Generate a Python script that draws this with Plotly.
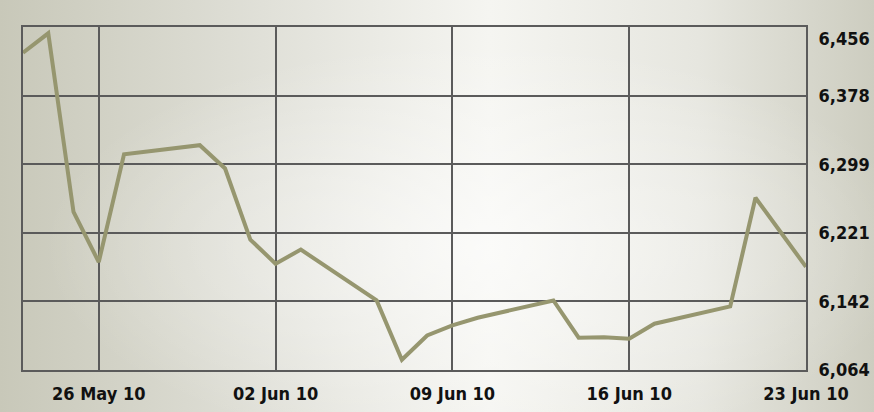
import base64
import plotly.graph_objects as go

# ---- data ----
dates = [
    "2010-05-23", "2010-05-24", "2010-05-25", "2010-05-26", "2010-05-27",
    "2010-05-30", "2010-05-31", "2010-06-01", "2010-06-02", "2010-06-03",
    "2010-06-06", "2010-06-07", "2010-06-08", "2010-06-09", "2010-06-10",
    "2010-06-13", "2010-06-14", "2010-06-15", "2010-06-16", "2010-06-17",
    "2010-06-20", "2010-06-21", "2010-06-22", "2010-06-23",
]
values = [
    6426.6, 6448.8, 6244.6, 6187.4, 6310.6,
    6320.9, 6294.3, 6213.0, 6185.5, 6201.6,
    6143.5, 6075.7, 6103.5, 6114.9, 6123.7,
    6143.5, 6100.9, 6101.5, 6099.7, 6116.9,
    6136.7, 6260.9, 6221.4, 6181.9,
]
y_tickvals = [6064, 6142.4, 6220.8, 6299.2, 6377.6, 6456]
y_ticktext = ["6,064", "6,142", "6,221", "6,299", "6,378", "<br>6,456"]
x_tickvals = ["2010-05-26", "2010-06-02", "2010-06-09", "2010-06-16", "2010-06-23"]
x_range = ["2010-05-23", "2010-06-23"]

# ---- layout geometry ----
W, H = 874, 412
ML, MR, MT, MB = 23, 68, 27, 42
pw, ph = W - ML - MR, H - MT - MB

# background gradient as an SVG image
svg = f'''<svg xmlns="http://www.w3.org/2000/svg" width="{W}" height="{H}" preserveAspectRatio="none">
<defs>
<linearGradient id="h" x1="0" y1="0" x2="1" y2="0">
<stop offset="0" stop-color="#c8c8b9"/>
<stop offset="0.3" stop-color="#e0e0d8"/>
<stop offset="0.56" stop-color="#f5f5f1"/>
<stop offset="0.8" stop-color="#e6e6df"/>
<stop offset="1" stop-color="#cdcdc0"/>
</linearGradient>
<radialGradient id="g" cx="0.55" cy="0.6" r="0.5">
<stop offset="0" stop-color="#ffffff" stop-opacity="0.6"/>
<stop offset="1" stop-color="#ffffff" stop-opacity="0"/>
</radialGradient>
</defs>
<rect x="0" y="0" width="{W}" height="{H}" fill="url(#h)"/>
<rect x="0" y="0" width="{W}" height="{H}" fill="url(#g)"/>
</svg>'''
src = "data:image/svg+xml;base64," + base64.b64encode(svg.encode()).decode()

font_fam = "DejaVu Sans Condensed, Liberation Sans Narrow, Arial Narrow, sans-serif"
grid_col = "#5b5b5b"

fig = go.Figure()
fig.add_trace(go.Scatter(
    x=dates, y=values, mode="lines",
    line=dict(color="#96966f", width=4),
    hoverinfo="x+y",
))

fig.update_layout(
    width=W, height=H,
    margin=dict(l=ML, r=MR, t=MT, b=MB, autoexpand=False),
    paper_bgcolor="#e4e4dc",
    plot_bgcolor="rgba(0,0,0,0)",
    showlegend=False,
    images=[dict(
        source=src, xref="paper", yref="paper",
        x=-ML / pw, y=1 + MT / ph,
        sizex=W / pw, sizey=H / ph,
        sizing="stretch", xanchor="left", yanchor="top",
        layer="below",
    )],
    xaxis=dict(
        type="date", range=x_range, automargin=False,
        tickvals=x_tickvals, tickformat="%d %b %y",
        showgrid=True, gridcolor=grid_col, gridwidth=2,
        showline=True, linecolor=grid_col, linewidth=2, mirror=True,
        ticks="", ticklabelstandoff=6,
        tickfont=dict(family=font_fam, size=18, color="#111111", weight="bold"),
        zeroline=False,
    ),
    yaxis=dict(
        range=[6064, 6456], side="right", automargin=False,
        tickvals=y_tickvals, ticktext=y_ticktext,
        showgrid=True, gridcolor=grid_col, gridwidth=2,
        showline=True, linecolor=grid_col, linewidth=2, mirror=True,
        ticks="", ticklabelstandoff=7,
        tickfont=dict(family=font_fam, size=18, color="#111111", weight="bold"),
        zeroline=False,
    ),
)

fig.write_html(
    "out.html",
    config={"displayModeBar": False},
    post_script="document.body.style.margin='0';document.body.style.overflow='hidden';",
)
